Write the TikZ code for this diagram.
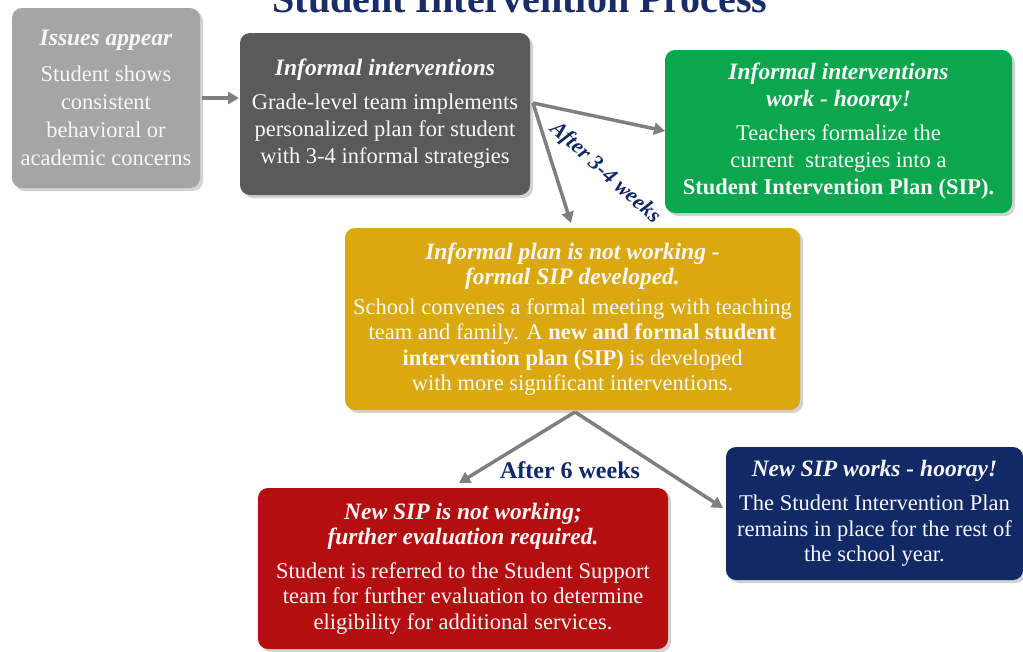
\documentclass[tikz,border=0pt]{standalone}
\usepackage{fontspec}
\setmainfont{Liberation Serif}
\usetikzlibrary{arrows.meta,shadows}
\definecolor{cgray}{HTML}{A5A5A5}
\definecolor{cdark}{HTML}{5A5A5A}
\definecolor{cgreen}{HTML}{0CA64E}
\definecolor{cgold}{HTML}{D9A90F}
\definecolor{cred}{HTML}{B30E10}
\definecolor{cnavy}{HTML}{112A66}
\definecolor{ctitle}{HTML}{1A2B6A}
\definecolor{carrow}{HTML}{7F7F7F}
\definecolor{ctext}{HTML}{F7F7F7}
\begin{document}
\begin{tikzpicture}[x=1pt,y=-1pt,
  box/.style={rounded corners=10pt, text=ctext, align=center, inner sep=3pt,
    font=\fontsize{22.5}{27}\selectfont,
    drop shadow={shadow xshift=3pt, shadow yshift=-3pt, opacity=0.35}},
  tight/.style={font=\fontsize{22.5}{25.5}\selectfont},
  loose/.style={font=\fontsize{22.5}{28}\selectfont},
  conn/.style={draw=carrow, line width=3.5pt, -{Triangle[length=11pt,width=12pt]}},
  lbl/.style={text=cnavy, font=\bfseries\fontsize{24}{24}\selectfont}
]
\clip (0,0) rectangle (1023,651);
\fill[white] (0,0) rectangle (1023,651);
\newcommand{\hd}[1]{{\bfseries\itshape\fontsize{23.5}{27}\selectfont #1}}

\node[text=ctitle, font=\bfseries\fontsize{40}{40}\selectfont, anchor=base] (title) at (520,12) {Student Intervention Process};

\node[box, loose, fill=cgray, minimum width=188pt, minimum height=180pt] (issues) at (106,98)
  {\hd{Issues appear}\\[8pt] Student shows\\ consistent\\ behavioral or\\ academic concerns};

\node[box, fill=cdark, minimum width=290pt, minimum height=162pt] (informal) at (385,114)
  {\hd{Informal interventions}\\[7pt] Grade-level team implements\\ personalized plan for student\\ with 3-4 informal strategies};

\node[box, fill=cgreen, minimum width=347pt, minimum height=163pt] (works) at (838.5,131.5)
  {\hd{Informal interventions}\\ \hd{work - hooray!}\\[7pt] Teachers formalize the\\ current\ \ strategies into a\\ \textbf{Student Intervention Plan (SIP).}};

\node[box, tight, fill=cgold, minimum width=455pt, minimum height=182pt] (formal) at (572.5,319)
  {\hd{Informal plan is not working -}\\ \hd{formal SIP developed.}\\[4pt] School convenes a formal meeting with teaching\\ team and family. A \textbf{new and formal student}\\ \textbf{intervention plan (SIP)} is developed\\ with more significant interventions.};

\node[box, tight, fill=cred, minimum width=410pt, minimum height=161pt] (notworking) at (463,568.5)
  {\hd{New SIP is not working;}\\ \hd{further evaluation required.}\\[8pt] Student is referred to the Student Support\\ team for further evaluation to determine\\ eligibility for additional services.};

\node[box, tight, fill=cnavy, minimum width=297pt, minimum height=133pt] (sipworks) at (874.5,513.5)
  {\hd{New SIP works - hooray!}\\[9pt] The Student Intervention Plan\\ remains in place for the rest of\\ the school year.};

\coordinate (s1) at (202,98);
\coordinate (e1) at (239,98);
\coordinate (s2) at (533,103);
\coordinate (e2) at (665,131);
\coordinate (e3) at (571,223);
\coordinate (s4) at (575,412);
\coordinate (e4) at (459,483);
\coordinate (e5) at (723,508);

\draw[conn] (s1) -- (e1);
\draw[conn] (s2) -- (e2);
\draw[conn] (s2) -- (e3);
\draw[conn] (s4) -- (e4);
\draw[conn] (s4) -- (e5);

\node[lbl, font=\bfseries\itshape\fontsize{22}{22}\selectfont, rotate=-42] (l34) at (605,173) {After 3-4 weeks};
\node[lbl] (l6) at (570,470) {After 6 weeks};
\end{tikzpicture}
\end{document}
